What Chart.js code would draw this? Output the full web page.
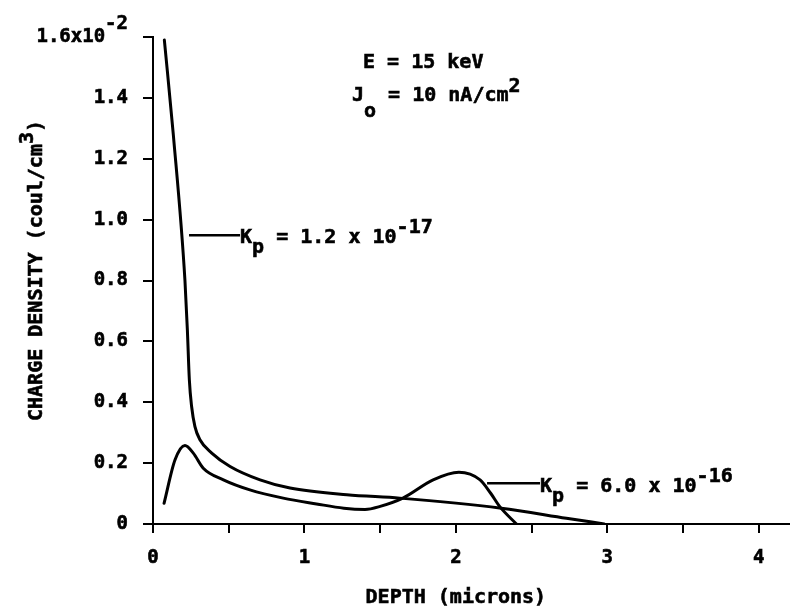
<!DOCTYPE html>
<html>
<head>
<meta charset="utf-8">
<title>Charge density vs depth</title>
<script src="https://cdn.jsdelivr.net/npm/chart.js"></script>
<style>
body{margin:0;background:#fff;}
#wrap{width:794px;height:609px;}
</style>
</head>
<body>
<div id="wrap"><canvas id="chart"></canvas></div>
<script>
// ================= DATA =================
// depth in microns, charge density in units of 1e-2 coul/cm^3

// Kp = 1.2 x 10^-17
const depthA  = [0.075, 0.134, 0.211, 0.227, 0.240, 0.255, 0.277, 0.310, 0.388, 0.509, 0.707, 0.905, 1.28, 1.63, 2.30, 2.73, 2.98];
const chargeA = [1.59,  1.28,  0.80,  0.637, 0.474, 0.386, 0.320, 0.277, 0.233, 0.189, 0.145, 0.118, 0.096, 0.085, 0.052, 0.019, 0.0];

// Kp = 6.0 x 10^-16
const depthB  = [0.073, 0.145, 0.211, 0.266, 0.332, 0.465, 0.640, 0.860, 1.08, 1.26, 1.40, 1.50, 1.65, 1.85, 2.02, 2.16, 2.23, 2.29, 2.40];
const chargeB = [0.068, 0.210, 0.258, 0.233, 0.183, 0.145, 0.112, 0.085, 0.066, 0.052, 0.048, 0.058, 0.085, 0.145, 0.170, 0.145, 0.101, 0.057, 0.0];

const xTicks = [0, 0.5, 1, 1.5, 2, 2.5, 3, 3.5, 4];
const yTicks = [0, 0.2, 0.4, 0.6, 0.8, 1.0, 1.2, 1.4, 1.6];

// ================= TEXT =================
const MONO = '"DejaVu Sans Mono", monospace';
const TXT = 'bold 20px ' + MONO;

// [text, vertical shift] pieces, anchored in data units
const notes = [
  {x:1.387, y:1.498, parts:[["E = 15 keV",0]]},
  {x:1.314, y:1.390, parts:[["J",0],["o",16],[" = 10 nA/cm",0],["2",-9]]},
  {x:0.575, y:0.923, parts:[["K",0],["p",10],[" = 1.2 x 10",0],["-17",-10]], lead:[0.238,0.949]},
  {x:2.556, y:0.105, parts:[["K",0],["p",10],[" = 6.0 x 10",0],["-16",-10]], lead:[2.206,0.134]}
];

// heavier strokes, like the plotter lettering
function ink(ctx, t, x, y){
  ctx.fillText(t, x, y);
  ctx.strokeText(t, x, y);
}
function rich(ctx, x, y, parts){
  for (const [t, dy] of parts){
    ink(ctx, t, x, y + dy);
    x += ctx.measureText(t).width;
  }
}
function richWidth(ctx, parts){
  let w = 0;
  for (const [t] of parts) w += ctx.measureText(t).width;
  return w;
}

const textPlugin = {
  id:'text',
  afterDraw(chart){
    const ctx = chart.ctx, xs = chart.scales.x, ys = chart.scales.y, area = chart.chartArea;
    ctx.save();
    ctx.fillStyle = '#000';
    ctx.strokeStyle = '#000';
    ctx.textBaseline = 'alphabetic';
    ctx.textAlign = 'left';
    ctx.font = TXT;

    notes.forEach(n => {
      const px = xs.getPixelForValue(n.x), py = ys.getPixelForValue(n.y);
      ctx.lineWidth = 0.6;
      rich(ctx, px, py, n.parts);
      if (n.lead){
        const ly = ys.getPixelForValue(n.lead[1]);
        ctx.lineWidth = 2.5;
        ctx.beginPath();
        ctx.moveTo(xs.getPixelForValue(n.lead[0]), ly);
        ctx.lineTo(px, ly);
        ctx.stroke();
      }
    });

    ctx.lineWidth = 0.6;

    // exponent of the top tick
    ctx.font = 'bold 19px ' + MONO;
    ctx.textAlign = 'right';
    ink(ctx, "-2", area.left - 25, ys.getPixelForValue(1.6) - 8);

    // x title, centred under the 0..4 range
    ctx.font = TXT;
    ctx.textAlign = 'center';
    ink(ctx, "DEPTH (microns)", xs.getPixelForValue(2), area.bottom + 79);

    // y title, rotated, with raised 3
    ctx.textAlign = 'left';
    const yParts = [["CHARGE DENSITY (coul/cm",0],["3",-9],[")",0]];
    ctx.translate(42, (area.top + area.bottom) / 2 - 10);
    ctx.rotate(-Math.PI / 2);
    rich(ctx, -richWidth(ctx, yParts) / 2, 0, yParts);
    ctx.restore();
  }
};

// ================= CHART =================
Chart.defaults.font.family = MONO;
Chart.defaults.font.weight = 'bold';
Chart.defaults.color = '#000';

const lineStyle = {
  borderColor:'#000',
  borderWidth:3,
  pointRadius:0,
  fill:false,
  cubicInterpolationMode:'monotone',
  borderCapStyle:'round',
  borderJoinStyle:'round'
};

new Chart(document.getElementById("chart"), {
  type:'line',
  data:{
    datasets:[
      Object.assign({label:'Kp = 1.2e-17', data:depthA.map((d,i)=>({x:d, y:chargeA[i]}))}, lineStyle),
      Object.assign({label:'Kp = 6.0e-16', data:depthB.map((d,i)=>({x:d, y:chargeB[i]}))}, lineStyle)
    ]
  },
  options:{
    responsive:true,
    maintainAspectRatio:false,
    animation:false,
    layout:{padding:{top:37, right:5, left:0, bottom:0}},
    plugins:{legend:{display:false}, tooltip:{enabled:false}},
    scales:{
      x:{
        type:'linear',
        min:0, max:4.2,
        afterBuildTicks:s => { s.ticks = xTicks.map(v => ({value:v})); },
        afterFit:s => { s.height = 85; },
        ticks:{
          font:{size:19, weight:'bold'},
          padding:14,
          maxRotation:0,
          autoSkip:false,
          textStrokeColor:'#000',
          textStrokeWidth:0.6,
          callback:v => Number.isInteger(v) ? String(v) : ''
        },
        grid:{display:true, drawOnChartArea:false, drawTicks:true, tickLength:9, color:'#000', lineWidth:2},
        border:{display:true, color:'#000', width:2}
      },
      y:{
        min:0, max:1.6,
        afterBuildTicks:s => { s.ticks = yTicks.map(v => ({value:v})); },
        afterFit:s => { s.width = 153; },
        ticks:{
          font:{size:19, weight:'bold'},
          padding:15,
          autoSkip:false,
          textStrokeColor:'#000',
          textStrokeWidth:0.6,
          callback:v => v === 0 ? "0" : (v === 1.6 ? "1.6x10  " : v.toFixed(1))
        },
        grid:{display:true, drawOnChartArea:false, drawTicks:true, tickLength:10, color:'#000', lineWidth:2},
        border:{display:true, color:'#000', width:2}
      }
    }
  },
  plugins:[textPlugin]
});
</script>
</body>
</html>
